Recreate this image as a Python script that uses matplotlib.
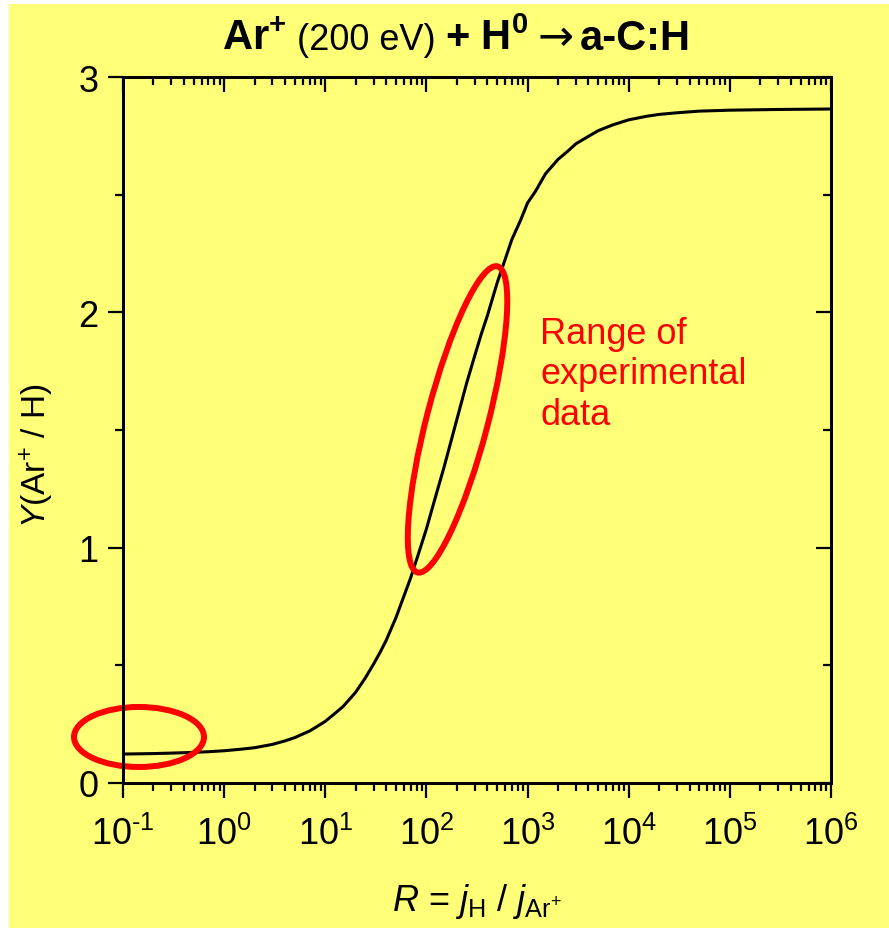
import numpy as np
import matplotlib
matplotlib.use("Agg")
import matplotlib.pyplot as plt
from matplotlib.patches import Ellipse, Rectangle
from matplotlib.ticker import (FixedLocator, FixedFormatter, LogLocator,
                               NullFormatter, MultipleLocator)

plt.rcParams["font.family"] = ["Liberation Sans", "DejaVu Sans"]
plt.rcParams["mathtext.fontset"] = "custom"
plt.rcParams["mathtext.rm"] = "Liberation Sans"
plt.rcParams["mathtext.it"] = "Liberation Sans:italic"
plt.rcParams["mathtext.bf"] = "Liberation Sans:bold"
plt.rcParams["mathtext.default"] = "regular"

# Flux ratio R = j_H / j_Ar+ and the corresponding erosion yield Y(Ar+/H)
flux_ratio = [0.1, 0.2, 0.3, 0.5, 0.7, 1, 1.5, 2, 3, 4, 5, 7, 8, 10, 12, 15,
              20, 25, 30, 35, 40, 50, 60, 70, 85, 100, 120, 150, 200, 250,
              300, 350, 400, 500, 600, 700, 850, 1000, 1200, 1500, 2000,
              2500, 3000, 4000, 5000, 7000, 1e4, 1.5e4, 2e4, 3e4, 5e4, 1e5,
              3e5, 1e6]
yield_ar = [0.123, 0.125, 0.127, 0.130, 0.133, 0.137, 0.144, 0.150, 0.164,
            0.179, 0.193, 0.221, 0.236, 0.262, 0.290, 0.325, 0.386, 0.448,
            0.505, 0.557, 0.606, 0.703, 0.795, 0.873, 0.985, 1.080, 1.200,
            1.345, 1.545, 1.700, 1.815, 1.910, 1.985, 2.125, 2.225, 2.310,
            2.390, 2.465, 2.515, 2.588, 2.650, 2.685, 2.716, 2.748, 2.772,
            2.797, 2.818, 2.833, 2.841, 2.848, 2.855, 2.859, 2.862, 2.864]

x_ticks = [1e-1, 1e0, 1e1, 1e2, 1e3, 1e4, 1e5, 1e6]
x_tick_labels = ["$10^{\u20101}$", r"$10^{0}$", r"$10^{1}$", r"$10^{2}$",
                 r"$10^{3}$", r"$10^{4}$", r"$10^{5}$", r"$10^{6}$"]
y_ticks = [0, 1, 2, 3]
y_tick_labels = ["0", "1", "2", "3"]

W, H = 889, 929
BG = "#ffff78"
TICK_W = 1.6
MAJ_LEN, MIN_LEN = 10.5, 6.0
SPINE_W = 2.0

fig = plt.figure(figsize=(W / 100, H / 100), dpi=100, facecolor=BG)
# thin white margins along the left and top edges
fig.add_artist(Rectangle((-0.1, 0), 0.1 + 9 / W, 1.1, transform=fig.transFigure,
                         facecolor="white", edgecolor="none", zorder=-10))
fig.add_artist(Rectangle((-0.1, 1 - 5 / H), 1.2, 0.1, transform=fig.transFigure,
                         facecolor="white", edgecolor="none", zorder=-10))

ax = fig.add_axes([123 / W, 1 - 784 / H, 708 / W, 706 / H])
ax.set_facecolor(BG)
ax.set_xscale("log")
ax.set_xlim(1e-1, 1e6)
ax.set_ylim(0, 3)

ax.plot(flux_ratio, yield_ar, color="black", lw=2.2, zorder=3)

# highlighted regions
ax.add_patch(Ellipse((0.0226, 0.0652), 0.1836, 0.085, transform=ax.transAxes,
                     fill=False, edgecolor="red", lw=4.3, clip_on=False,
                     zorder=4))
ax.add_patch(Ellipse((0.4725, 0.5150), 0.4480, 0.0864, angle=75.4,
                     transform=ax.transAxes, fill=False, edgecolor="red",
                     lw=4.3, clip_on=False, zorder=4))

ax.xaxis.set_major_locator(FixedLocator(x_ticks))
ax.xaxis.set_major_formatter(FixedFormatter(x_tick_labels))
ax.xaxis.set_minor_locator(LogLocator(base=10, subs=np.arange(2, 10),
                                      numticks=100))
ax.xaxis.set_minor_formatter(NullFormatter())
ax.yaxis.set_major_locator(FixedLocator(y_ticks))
ax.yaxis.set_major_formatter(FixedFormatter(y_tick_labels))
ax.yaxis.set_minor_locator(MultipleLocator(0.5))
ax.tick_params(which="both", direction="out", top=False, right=False,
               width=TICK_W, labelsize=26, color="black")
ax.tick_params(which="major", length=MAJ_LEN)
ax.tick_params(which="minor", length=MIN_LEN)
ax.tick_params(axis="x", pad=13)
ax.tick_params(axis="y", pad=7)

# inward ticks on the top and right frame
axt = ax.twiny()
axt.set_xscale("log")
axt.set_xlim(ax.get_xlim())
axt.xaxis.set_major_locator(FixedLocator(x_ticks))
axt.xaxis.set_minor_locator(LogLocator(base=10, subs=np.arange(2, 10),
                                       numticks=100))
axt.tick_params(axis="x", which="both", direction="in", labeltop=False,
                width=TICK_W)
axt.tick_params(axis="x", which="major", length=MAJ_LEN)
axt.tick_params(axis="x", which="minor", length=MIN_LEN)

axr = ax.twinx()
axr.set_ylim(ax.get_ylim())
axr.yaxis.set_major_locator(FixedLocator(y_ticks))
axr.yaxis.set_minor_locator(MultipleLocator(0.5))
axr.tick_params(axis="y", which="both", direction="in", labelright=False,
                width=TICK_W)
axr.tick_params(axis="y", which="major", length=MAJ_LEN)
axr.tick_params(axis="y", which="minor", length=MIN_LEN)

for a in (ax, axt, axr):
    for s in a.spines.values():
        s.set_linewidth(SPINE_W)

fig.text(477 / W, 1 - 911 / H,
         r"$\mathit{R}$ = $\mathit{j}_{\mathrm{H}}$ / $\mathit{j}_{\mathrm{Ar}^{+}}$",
         ha="center", va="baseline", fontsize=26)
fig.text(37 / W, 1 - 456 / H, r"$\mathit{Y}$(Ar$^{+}$ / H)", rotation=90,
         ha="center", va="center", fontsize=24)

fig.text(540 / W, 1 - 317 / H, "Range of\nexperimental\ndata", color="red",
         fontsize=26, ha="left", va="top", linespacing=1.2)

# title made of bold and regular pieces on one baseline
title_parts = [("Ar$^{+}$", "bold", 30, None, 0),
               (" (200 eV) ", "normal", 26, None, 0),
               ("+ H$^{0}$", "bold", 30, None, 0),
               ("\u2192", "normal", 31, "DejaVu Sans", 9),
               ("a-C:H", "bold", 30, None, 6)]
fig.canvas.draw()
renderer = fig.canvas.get_renderer()
x_px = 222.0
for text, weight, size, family, gap in title_parts:
    kw = {"family": family} if family else {}
    t = fig.text((x_px + gap) / W, 1 - 50 / H, text, fontweight=weight,
                 fontsize=size, ha="left", va="baseline", **kw)
    bb = t.get_window_extent(renderer)
    x_px = bb.x1

fig.savefig("out.png", dpi=100, facecolor=BG)
